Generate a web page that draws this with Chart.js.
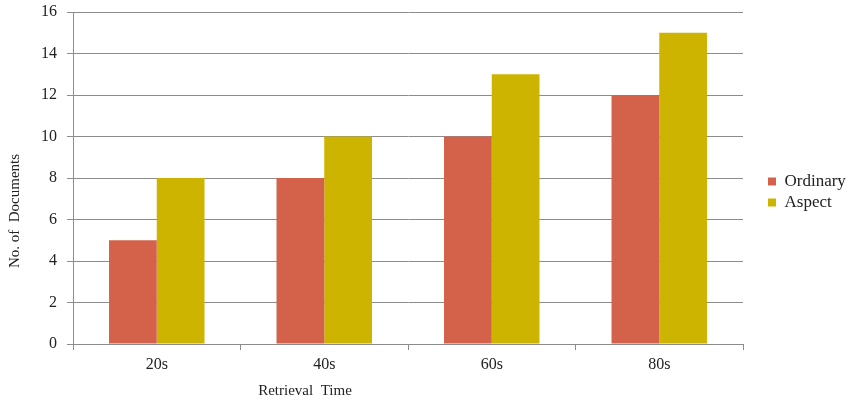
<!DOCTYPE html>
<html>
<head>
<meta charset="utf-8">
<script src="https://cdn.jsdelivr.net/npm/chart.js@4"></script>
<style>
  html, body { margin:0; padding:0; background:#fff; }
  #wrap { width:852px; height:400px; }
</style>
</head>
<body>
<div id="wrap"><canvas id="c" width="852" height="400"></canvas></div>
<script>
const categories = ['20s', '40s', '60s', '80s'];
const ordinary = [5, 8, 10, 12];
const aspect = [8, 10, 13, 15];
const yTicks = [0, 2, 4, 6, 8, 10, 12, 14, 16];

const FONT = '"Liberation Serif", "Times New Roman", serif';
const GRID = '#8c8c8c';

// axis titles sit off-centre in the original, so draw them by hand
const axisTitles = {
  id: 'axisTitles',
  afterDraw(chart){
    const ctx = chart.ctx;
    ctx.save();
    ctx.fillStyle = '#222';
    ctx.font = '15px ' + FONT;
    ctx.textAlign = 'center';
    ctx.textBaseline = 'middle';
    ctx.fillText('Retrieval  Time', 305, 391);
    ctx.translate(15, 211);
    ctx.rotate(-Math.PI/2);
    ctx.fillText('No. of  Documents', 0, 0);
    ctx.restore();
  }
};

// the legend is wider than its labels and sits further right in the original
const legendPlace = {
  id: 'legendPlace',
  beforeInit(chart){
    const fit = chart.legend.fit;
    chart.legend.fit = function(){
      fit.call(this);
      this.width = 852 - 743;
      this.right = this.left + this.width;
    };
  },
  afterLayout(chart){
    chart.legend.left = 764;
    chart.legend.top -= 14;
    chart.legend.bottom -= 14;
  }
};

new Chart(document.getElementById('c'), {
  type: 'bar',
  data: {
    labels: categories,
    datasets: [
      { label: 'Ordinary', data: ordinary, backgroundColor: '#D4624A' },
      { label: 'Aspect', data: aspect, backgroundColor: '#CCB400' }
    ]
  },
  options: {
    responsive: false,
    animation: false,
    devicePixelRatio: 1,
    categoryPercentage: 0.57,
    barPercentage: 1,
    layout: { padding: { top: 12, right: 0, left: 0, bottom: 0 } },
    plugins: {
      tooltip: { enabled: false },
      legend: {
        position: 'right',
        labels: {
          boxWidth: 8, boxHeight: 8, padding: 4,
          color: '#222',
          font: { family: FONT, size: 17 }
        }
      }
    },
    scales: {
      x: {
        grid: { offset: true, drawOnChartArea: false, color: GRID, tickLength: 6 },
        border: { color: GRID },
        ticks: { color: '#222', font: { family: FONT, size: 16 }, padding: 5 },
        afterFit(s){ s.height = 56; }
      },
      y: {
        min: 0, max: 16,
        afterBuildTicks(s){ s.ticks = yTicks.map(v => ({ value: v })); },
        grid: { color: GRID, tickLength: 6 },
        border: { color: GRID },
        ticks: { color: '#222', font: { family: FONT, size: 16 }, padding: 10 },
        afterFit(s){ s.width = 73; s.paddingTop = 0; s.paddingBottom = 0; }
      }
    }
  },
  plugins: [axisTitles, legendPlace]
});
</script>
</body>
</html>
